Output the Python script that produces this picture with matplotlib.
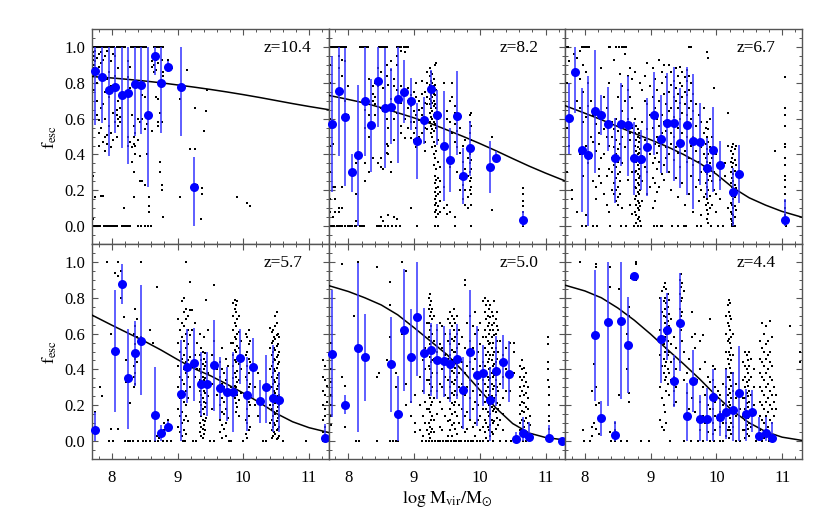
import numpy as np
import matplotlib
matplotlib.use('Agg')
import matplotlib.pyplot as plt
from matplotlib.ticker import MultipleLocator

plt.rcParams['font.family'] = ['Liberation Serif', 'DejaVu Serif']
plt.rcParams['mathtext.fontset'] = 'stix'
plt.rcParams['font.size'] = 12

REDSHIFTS = ['z=10.4', 'z=8.2', 'z=6.7', 'z=5.7', 'z=5.0', 'z=4.4']

# ---- fitted curves ----
CURVE_X = [7.7, 8.0, 8.25, 8.5, 8.75, 9.0, 9.25, 9.5, 9.75, 10.0, 10.25, 10.5, 10.75, 11.0, 11.3]
curve_p1 = [0.835, 0.827, 0.819, 0.810, 0.800, 0.788, 0.776, 0.763, 0.749, 0.734, 0.718, 0.701, 0.684, 0.668, 0.650]
curve_p2 = [0.730, 0.707, 0.687, 0.661, 0.633, 0.604, 0.573, 0.537, 0.500, 0.461, 0.420, 0.377, 0.335, 0.296, 0.252]
curve_p3 = [0.672, 0.630, 0.594, 0.556, 0.518, 0.482, 0.444, 0.400, 0.350, 0.290, 0.215, 0.158, 0.117, 0.082, 0.050]
curve_p4 = [0.703, 0.647, 0.602, 0.557, 0.508, 0.455, 0.405, 0.365, 0.318, 0.268, 0.215, 0.155, 0.108, 0.075, 0.048]
curve_p5 = [0.868, 0.835, 0.800, 0.760, 0.705, 0.633, 0.558, 0.483, 0.388, 0.285, 0.183, 0.098, 0.045, 0.020, 0.006]
curve_p6 = [0.870, 0.838, 0.800, 0.743, 0.675, 0.597, 0.513, 0.431, 0.345, 0.252, 0.168, 0.102, 0.053, 0.022, 0.004]

# ---- binned medians with error bars (lo / hi = bar ends) ----
mass_p1 = [7.75, 7.85, 7.95, 8.05, 8.15, 8.25, 8.35, 8.45, 8.55, 8.65, 8.75, 8.85, 9.05, 9.25]
fesc_p1 = [0.864, 0.835, 0.762, 0.775, 0.734, 0.742, 0.796, 0.786, 0.623, 0.950, 0.797, 0.890, 0.779, 0.216]
lo_p1 = [0.565, 0.575, 0.389, 0.519, 0.435, 0.346, 0.501, 0.513, 0.216, 0.844, 0.519, 0.863, 0.501, 0.0]
hi_p1 = [1.0, 1.0, 1.0, 1.0, 1.0, 1.0, 1.0, 1.0, 1.0, 1.0, 1.0, 0.922, 1.0, 0.385]

mass_p2 = [7.75, 7.85, 7.95, 8.05, 8.15, 8.25, 8.35, 8.45, 8.55, 8.65, 8.75, 8.85, 8.95, 9.05, 9.15,
           9.25, 9.35, 9.45, 9.55, 9.65, 9.75, 9.85, 10.15, 10.25, 10.65]
fesc_p2 = [0.571, 0.755, 0.610, 0.300, 0.395, 0.696, 0.564, 0.812, 0.662, 0.666, 0.708, 0.749, 0.697, 0.476, 0.593,
           0.764, 0.621, 0.445, 0.367, 0.614, 0.278, 0.437, 0.330, 0.383, 0.036]
lo_p2 = [0.190, 0.389, 0.222, 0.190, 0.0, 0.389, 0.302, 0.556, 0.326, 0.460, 0.355, 0.575, 0.538, 0.263, 0.460,
         0.658, 0.454, 0.138, 0.189, 0.398, 0.125, 0.281, 0.185, 0.361, 0.0]
hi_p2 = [0.952, 1.0, 0.993, 0.404, 0.788, 1.0, 0.820, 1.0, 0.993, 0.881, 1.0, 0.928, 0.826, 0.686, 0.723,
         0.872, 0.760, 0.752, 0.547, 0.866, 0.436, 0.585, 0.473, 0.417, 0.083]

mass_p3 = [7.75, 7.85, 7.95, 8.05, 8.15, 8.25, 8.35, 8.45, 8.55, 8.65, 8.75, 8.85, 8.95, 9.05, 9.15,
           9.25, 9.35, 9.45, 9.55, 9.65, 9.75, 9.85, 9.95, 10.05, 10.25, 10.35, 11.05]
fesc_p3 = [0.603, 0.863, 0.423, 0.398, 0.643, 0.621, 0.569, 0.380, 0.569, 0.562, 0.382, 0.376, 0.443, 0.619, 0.487,
           0.575, 0.573, 0.465, 0.567, 0.474, 0.469, 0.326, 0.426, 0.343, 0.190, 0.292, 0.036]
lo_p3 = [0.404, 0.634, 0.077, 0.0, 0.296, 0.510, 0.417, 0.129, 0.333, 0.281, 0.175, 0.199, 0.170, 0.398, 0.296,
         0.296, 0.250, 0.213, 0.175, 0.096, 0.231, 0.157, 0.189, 0.203, 0.0, 0.129, 0.0]
hi_p3 = [0.801, 1.0, 0.770, 0.838, 0.983, 0.731, 0.775, 0.603, 0.798, 0.838, 0.584, 0.538, 0.714, 0.863, 0.733,
         0.853, 0.890, 0.770, 0.887, 0.850, 0.690, 0.491, 0.667, 0.473, 0.324, 0.454, 0.151]

mass_p4 = [7.75, 8.05, 8.15, 8.25, 8.35, 8.45, 8.65, 8.75, 8.85, 9.05, 9.15, 9.25, 9.35, 9.45, 9.55,
           9.65, 9.75, 9.85, 9.95, 10.05, 10.15, 10.25, 10.35, 10.45, 10.55, 11.25]
fesc_p4 = [0.060, 0.504, 0.877, 0.350, 0.489, 0.561, 0.147, 0.043, 0.078, 0.264, 0.416, 0.435, 0.318, 0.318, 0.424,
           0.294, 0.275, 0.275, 0.465, 0.258, 0.411, 0.221, 0.301, 0.238, 0.232, 0.017]
lo_p4 = [0.0, 0.164, 0.768, 0.067, 0.309, 0.257, 0.0, 0.0, 0.048, 0.0, 0.212, 0.225, 0.141, 0.138, 0.169,
         0.123, 0.113, 0.048, 0.318, 0.058, 0.238, 0.100, 0.100, 0.048, 0.048, 0.0]
hi_p4 = [0.164, 0.844, 0.991, 0.628, 0.671, 0.870, 0.416, 0.089, 0.113, 0.563, 0.628, 0.632, 0.495, 0.498, 0.677,
         0.467, 0.411, 0.498, 0.625, 0.467, 0.578, 0.342, 0.480, 0.535, 0.383, 0.095]

mass_p5 = [7.75, 7.95, 8.15, 8.25, 8.65, 8.75, 8.85, 8.95, 9.05, 9.15, 9.25, 9.35, 9.45, 9.55, 9.65,
           9.75, 9.85, 9.95, 10.05, 10.15, 10.25, 10.35, 10.45, 10.55, 10.65, 10.75, 11.05, 11.25]
fesc_p5 = [0.485, 0.203, 0.517, 0.468, 0.428, 0.154, 0.619, 0.472, 0.690, 0.489, 0.509, 0.454, 0.448, 0.433, 0.457,
           0.286, 0.495, 0.368, 0.379, 0.229, 0.390, 0.444, 0.374, 0.011, 0.045, 0.024, 0.015, 0.002]
lo_p5 = [0.132, 0.151, 0.048, 0.225, 0.160, 0.0, 0.281, 0.212, 0.361, 0.262, 0.253, 0.234, 0.244, 0.216, 0.234,
         0.067, 0.123, 0.086, 0.197, 0.0, 0.197, 0.290, 0.216, 0.0, 0.0, 0.0, 0.0, 0.0]
hi_p5 = [0.842, 0.258, 0.996, 0.708, 0.690, 0.361, 0.959, 0.740, 1.0, 0.745, 0.658, 0.652, 0.643, 0.625, 0.656,
         0.467, 0.844, 0.643, 0.535, 0.416, 0.584, 0.591, 0.560, 0.048, 0.132, 0.104, 0.091, 0.002]

mass_p6 = [8.15, 8.25, 8.35, 8.45, 8.55, 8.65, 8.75, 9.15, 9.25, 9.35, 9.45, 9.55, 9.65, 9.75, 9.85,
           9.95, 10.05, 10.15, 10.25, 10.35, 10.45, 10.55, 10.65, 10.75, 10.85]
fesc_p6 = [0.591, 0.130, 0.664, 0.035, 0.671, 0.537, 0.920, 0.569, 0.621, 0.336, 0.660, 0.138, 0.333, 0.123, 0.123,
           0.244, 0.132, 0.160, 0.173, 0.271, 0.154, 0.164, 0.030, 0.043, 0.017]
lo_p6 = [0.225, 0.030, 0.197, 0.0, 0.234, 0.266, 0.903, 0.323, 0.454, 0.188, 0.392, 0.0, 0.160, 0.0, 0.0,
         0.0, 0.030, 0.011, 0.0, 0.0, 0.0, 0.048, 0.0, 0.0, 0.0]
hi_p6 = [0.956, 0.225, 1.0, 0.113, 1.0, 0.805, 0.941, 0.805, 0.829, 0.480, 0.941, 0.327, 0.509, 0.257, 0.299,
         0.402, 0.234, 0.402, 0.383, 0.532, 0.290, 0.284, 0.132, 0.132, 0.104]

# ---- individual haloes (black dots) ----
# top_*: masses of haloes sitting at f_esc = 1, zero_*: at f_esc = 0,
# cols_*: (mass, [f_esc values]) for the remaining dots
top_p1 = [7.71, 7.72, 7.73, 7.74, 7.76, 7.78, 7.80, 7.82, 7.84, 7.86, 7.88, 7.90, 7.93, 7.96, 7.99, 8.01, 8.03,
          8.08, 8.10, 8.12, 8.15, 8.18, 8.20, 8.29, 8.31, 8.34, 8.37, 8.40, 8.43, 8.46, 8.49, 8.52,
          8.64, 8.66, 8.68, 8.70, 8.73, 8.76, 8.78]
zero_p1 = [7.71, 7.73, 7.75, 7.78, 7.80, 7.82, 7.88, 7.90, 7.92, 7.95, 7.97, 8.00, 8.03, 8.06, 8.08,
           8.15, 8.17, 8.20, 8.22, 8.25, 8.27, 8.40, 8.45, 8.50, 8.55, 8.60]
cols_p1 = [(7.71, [0.97, 0.93, 0.88, 0.28, 0.04]), (7.73, [0.95, 0.90, 0.84, 0.76]), (7.75, [0.98, 0.92, 0.16]),
           (7.78, [0.94, 0.87, 0.80, 0.70, 0.62]), (7.81, [0.96, 0.89, 0.59, 0.45, 0.52]),
           (7.84, [0.97, 0.91, 0.66, 0.55, 0.17]), (7.86, [0.93, 0.68, 0.47, 0.17]),
           (7.89, [0.95, 0.75, 0.60, 0.50, 0.42]), (7.92, [0.98, 0.82, 0.51, 0.46]), (7.95, [0.86, 0.72, 0.56]),
           (7.99, [0.92, 0.78, 0.44, 0.52]), (8.02, [0.96, 0.48, 0.63]), (8.05, [0.95, 0.84, 0.58]),
           (8.08, [0.78, 0.65, 0.50, 0.62]), (8.10, [0.88, 0.70, 0.60, 0.56]), (8.12, [0.66, 0.61, 0.58]),
           (8.18, [0.10]), (8.25, [0.92, 0.83, 0.50, 0.45]), (8.27, [0.89, 0.77, 0.47]), (8.30, [0.62, 0.44, 0.36]),
           (8.33, [0.56, 0.50, 0.30, 0.16, 0.46]), (8.36, [0.45, 0.40, 0.52]), (8.40, [0.60, 0.48]),
           (8.43, [0.58, 0.25, 0.39]), (8.46, [0.73, 0.60, 0.25]), (8.50, [0.72, 0.54, 0.23]), (8.53, [0.57, 0.40]),
           (8.56, [0.16, 0.11, 0.08]), (8.61, [0.92, 0.89, 0.53]), (8.64, [0.94, 0.90, 0.86]),
           (8.67, [0.93, 0.87, 0.72]), (8.70, [0.91, 0.71, 0.58, 0.56]), (8.73, [0.63, 0.36, 0.30]),
           (8.76, [0.93, 0.58, 0.23, 0.20]), (8.78, [0.86, 0.84, 0.05]), (8.86, [0.93, 0.88]), (8.91, [0.88]),
           (9.04, [0.71, 0.16]), (9.14, [0.87]), (9.19, [0.43]), (9.26, [0.66, 0.43]), (9.29, [0.23]),
           (9.35, [0.04]), (9.37, [0.21, 0.18]), (9.40, [0.53]), (9.43, [0.64]), (9.45, [0.76]),
           (9.90, [0.16]), (10.05, [0.13]), (10.10, [0.11])]

top_p2 = [7.72, 7.74, 7.76, 7.78, 7.80, 7.83, 7.86, 7.89, 7.92, 7.95, 7.97, 8.18, 8.21, 8.24, 8.27, 8.30,
          8.46, 8.49, 8.52, 8.55, 8.58, 8.74, 8.77, 8.80, 8.84, 8.88, 8.91]
zero_p2 = [7.72, 7.75, 7.78, 7.82, 7.85, 7.88, 7.91, 7.95, 8.00, 8.03, 8.06, 8.10, 8.12, 8.18, 8.21, 8.23,
           8.43, 8.46, 8.50, 8.55, 8.60, 8.66, 8.72, 8.78, 9.05, 9.32, 9.36, 9.62, 9.87, 10.66]
cols_p2 = [(7.72, [0.90, 0.80, 0.60, 0.45, 0.30, 0.15, 0.08]), (7.76, [0.46, 0.22, 0.05]),
           (7.80, [0.22, 0.15, 0.08]), (7.85, [0.95, 0.88, 0.10, 0.08]), (7.90, [0.93, 0.84, 0.22, 0.10]),
           (7.95, [0.92, 0.70]), (8.00, [0.78, 0.62]), (8.12, [0.35, 0.18, 0.03]),
           (8.26, [0.65, 0.55, 0.35, 0.25]), (8.32, [0.82, 0.62, 0.50, 0.30]), (8.37, [0.78, 0.74, 0.70, 0.38]),
           (8.41, [0.80, 0.72, 0.68, 0.62]), (8.45, [0.88, 0.78, 0.35]), (8.50, [0.86, 0.66, 0.38, 0.33, 0.05]),
           (8.53, [0.77, 0.64, 0.32, 0.03]), (8.58, [0.90, 0.84, 0.60, 0.46, 0.41]),
           (8.61, [0.79, 0.55, 0.45, 0.40, 0.06]), (8.65, [0.92, 0.87, 0.71, 0.36, 0.30]),
           (8.70, [0.82, 0.78, 0.60, 0.48, 0.05]), (8.74, [0.95, 0.90, 0.76, 0.63, 0.04]),
           (8.80, [0.98, 0.78, 0.69, 0.56, 0.52]), (8.86, [0.97, 0.75, 0.60, 0.49]),
           (8.90, [0.77, 0.70, 0.66, 0.55]), (8.95, [0.73, 0.67, 0.58, 0.49, 0.10]),
           (9.00, [0.75, 0.70, 0.64, 0.58, 0.52, 0.48]), (9.03, [0.80, 0.72, 0.62, 0.55, 0.44]),
           (9.07, [0.70, 0.65, 0.59, 0.50, 0.47]), (9.12, [0.81, 0.74, 0.66, 0.62, 0.52]),
           (9.16, [0.75, 0.69, 0.60, 0.55, 0.47, 0.42]), (9.20, [0.86, 0.80, 0.72, 0.68, 0.54]),
           (9.24, [0.88, 0.84, 0.79, 0.75, 0.71, 0.68, 0.63, 0.58]),
           (9.26, [0.86, 0.81, 0.77, 0.73, 0.70, 0.66, 0.61, 0.56, 0.52]),
           (9.28, [0.85, 0.80, 0.76, 0.72, 0.69, 0.64, 0.60, 0.54, 0.50, 0.44]),
           (9.30, [0.82, 0.78, 0.74, 0.70, 0.67, 0.62, 0.58, 0.53, 0.47, 0.40, 0.34]),
           (9.32, [0.90, 0.79, 0.73, 0.68, 0.63, 0.57, 0.45, 0.38, 0.28, 0.24, 0.19, 0.15, 0.12, 0.08]),
           (9.34, [0.91, 0.76, 0.66, 0.55, 0.42, 0.32, 0.26, 0.21, 0.17, 0.13, 0.09, 0.05]),
           (9.36, [0.60, 0.48, 0.36, 0.27, 0.22, 0.18, 0.11, 0.07]), (9.39, [0.33, 0.25, 0.19, 0.14, 0.08]),
           (9.45, [0.80, 0.22, 0.10]), (9.50, [0.64, 0.60, 0.12, 0.07]), (9.55, [0.70, 0.58, 0.33, 0.08]),
           (9.58, [0.80, 0.72, 0.52]), (9.62, [0.67, 0.63, 0.57, 0.47, 0.05]), (9.66, [0.62, 0.53, 0.44, 0.30]),
           (9.70, [0.55, 0.41, 0.27, 0.20]), (9.74, [0.45, 0.36, 0.23, 0.15]), (9.78, [0.48, 0.32, 0.20, 0.12]),
           (9.82, [0.44, 0.38, 0.28, 0.16, 0.10]), (9.85, [0.62, 0.58, 0.52, 0.45, 0.40, 0.35, 0.30, 0.25, 0.20]),
           (9.87, [0.63, 0.56, 0.48, 0.42, 0.37, 0.32, 0.27, 0.22, 0.18, 0.12]), (10.19, [0.50, 0.09]),
           (10.66, [0.21, 0.18, 0.14, 0.11, 0.08, 0.05, 0.03])]

top_p3 = [7.72, 7.74, 7.96, 7.99, 8.01, 8.04, 8.06, 8.36, 8.38, 8.48, 8.52, 8.56, 8.60, 8.63, 9.58, 9.60, 9.62]
zero_p3 = [7.95, 8.02, 8.12, 8.18, 8.38, 8.55, 8.62, 8.75, 8.80, 8.86, 9.05, 9.10, 9.15, 9.18, 9.32, 9.42,
           9.50, 9.54, 9.70, 9.76, 9.92, 10.02, 10.10, 10.24, 10.26, 10.28, 11.06]
cols_p3 = [(7.72, [0.80, 0.55, 0.30]), (7.76, [0.92, 0.45]), (7.80, [0.20, 0.15]), (7.84, [0.96, 0.85]),
           (7.88, [0.94, 0.70, 0.08]), (7.92, [0.98, 0.82, 0.66, 0.40]), (7.97, [0.90, 0.75, 0.58, 0.28]),
           (8.01, [0.86, 0.61, 0.45, 0.06]), (8.05, [0.80, 0.67, 0.35]), (8.09, [0.70, 0.50, 0.38]),
           (8.13, [0.62, 0.47, 0.25]), (8.17, [0.57, 0.42, 0.22, 0.15]), (8.21, [0.52, 0.46, 0.32, 0.28]),
           (8.25, [0.88, 0.60, 0.38, 0.24]), (8.29, [0.72, 0.54, 0.40, 0.18]), (8.33, [0.66, 0.50, 0.28, 0.12]),
           (8.37, [0.80, 0.57, 0.45, 0.32, 0.08]), (8.41, [0.58, 0.50, 0.38, 0.30, 0.20]),
           (8.44, [0.93, 0.54, 0.44, 0.34, 0.24, 0.18]), (8.47, [0.60, 0.48, 0.40, 0.33, 0.27, 0.20, 0.14]),
           (8.50, [0.72, 0.53, 0.43, 0.36, 0.29, 0.22, 0.16, 0.12]), (8.53, [0.85, 0.46, 0.38, 0.30, 0.25, 0.18]),
           (8.57, [0.78, 0.64, 0.50, 0.35, 0.10]), (8.61, [0.96, 0.70, 0.56, 0.44]),
           (8.65, [0.84, 0.76, 0.60, 0.26]), (8.69, [0.88, 0.72, 0.52, 0.48, 0.12]),
           (8.72, [0.82, 0.66, 0.55, 0.30, 0.07]), (8.76, [0.86, 0.60, 0.52, 0.45, 0.38, 0.30, 0.22, 0.15, 0.08]),
           (8.78, [0.56, 0.48, 0.42, 0.36, 0.31, 0.26, 0.21, 0.17, 0.12, 0.06, 0.02]),
           (8.80, [0.54, 0.50, 0.44, 0.40, 0.34, 0.29, 0.24, 0.19, 0.14, 0.10, 0.04]),
           (8.82, [0.52, 0.47, 0.41, 0.37, 0.32, 0.27, 0.23, 0.18, 0.13, 0.09, 0.05]),
           (8.84, [0.80, 0.49, 0.43, 0.35, 0.28, 0.20, 0.11, 0.03]), (8.87, [0.76, 0.58, 0.39, 0.25, 0.14]),
           (8.91, [0.84, 0.70, 0.48, 0.33]), (8.95, [0.91, 0.68, 0.54, 0.30, 0.18]),
           (8.99, [0.78, 0.62, 0.44, 0.40, 0.22]), (9.03, [0.88, 0.72, 0.55, 0.35, 0.27, 0.10]),
           (9.06, [0.82, 0.66, 0.46, 0.38, 0.24, 0.14]), (9.10, [0.76, 0.60, 0.50, 0.41, 0.32, 0.19]),
           (9.13, [0.93, 0.70, 0.56, 0.45, 0.36, 0.22]), (9.17, [0.86, 0.80, 0.62, 0.52, 0.29]),
           (9.20, [0.90, 0.74, 0.58, 0.48, 0.34, 0.26]), (9.24, [0.83, 0.68, 0.53, 0.44, 0.38]),
           (9.28, [0.90, 0.75, 0.64, 0.57, 0.40, 0.30]), (9.31, [0.86, 0.79, 0.66, 0.52, 0.46, 0.20]),
           (9.35, [0.81, 0.72, 0.61, 0.50, 0.37]), (9.38, [0.88, 0.77, 0.70, 0.58, 0.44, 0.27]),
           (9.42, [0.84, 0.74, 0.66, 0.55, 0.41, 0.16]), (9.45, [0.89, 0.80, 0.69, 0.60, 0.47, 0.33]),
           (9.48, [0.86, 0.78, 0.72, 0.63, 0.52, 0.24]), (9.52, [0.83, 0.75, 0.68, 0.56, 0.42, 0.12]),
           (9.55, [0.87, 0.81, 0.73, 0.62, 0.50, 0.36]), (9.58, [0.84, 0.76, 0.66, 0.55, 0.38, 0.18]),
           (9.61, [0.80, 0.70, 0.60, 0.45, 0.28]), (9.65, [0.74, 0.64, 0.50, 0.34, 0.08]),
           (9.69, [0.68, 0.56, 0.42, 0.22]), (9.73, [0.62, 0.48, 0.36, 0.26, 0.14]),
           (9.77, [0.58, 0.44, 0.30, 0.20, 0.06]), (9.81, [0.66, 0.52, 0.40, 0.32, 0.16]),
           (9.84, [0.55, 0.46, 0.38, 0.30, 0.24, 0.18, 0.12]),
           (9.86, [0.97, 0.58, 0.50, 0.43, 0.36, 0.29, 0.22, 0.15, 0.09, 0.04]),
           (9.88, [0.94, 0.54, 0.47, 0.40, 0.33, 0.26, 0.20, 0.13, 0.07, 0.02]),
           (9.90, [0.60, 0.44, 0.35, 0.28, 0.17, 0.10]), (9.93, [0.50, 0.38, 0.25, 0.12]),
           (9.96, [0.77, 0.30, 0.20]), (10.00, [0.40, 0.18, 0.08]), (10.05, [0.26, 0.15]), (10.13, [0.35, 0.28]),
           (10.18, [0.63, 0.45, 0.10]), (10.22, [0.42, 0.36, 0.30, 0.24, 0.18, 0.13, 0.08, 0.04]),
           (10.24, [0.44, 0.38, 0.33, 0.27, 0.22, 0.17, 0.12, 0.07, 0.03, 0.01]),
           (10.26, [0.46, 0.40, 0.35, 0.29, 0.25, 0.20, 0.15, 0.10, 0.06, 0.02]),
           (10.28, [0.43, 0.37, 0.31, 0.23, 0.16, 0.11, 0.05]), (10.30, [0.45, 0.34, 0.21, 0.09]),
           (10.90, [0.42]),
           (11.04, [0.83, 0.66, 0.62, 0.56, 0.46, 0.44, 0.38, 0.34, 0.28, 0.26, 0.22, 0.18, 0.14, 0.10, 0.06, 0.03])]

top_p4 = [7.92, 8.09, 8.45, 9.13]
zero_p4 = [7.96, 8.02, 8.20, 8.24, 8.28, 8.32, 8.40, 8.48, 8.52, 8.58, 8.66, 8.70, 8.78, 8.84, 8.90, 9.08, 9.12,
           9.24, 9.28, 9.50, 9.56, 9.78, 9.82, 10.00, 10.30, 10.34, 10.60, 10.96, 11.22]
cols_p4 = [(7.75, [0.16]), (7.82, [0.30]), (7.85, [0.25]), (7.98, [0.60, 0.07]), (8.05, [0.94]),
           (8.10, [0.92, 0.07]), (8.14, [0.95, 0.80]), (8.18, [0.69]), (8.22, [0.45, 0.33]), (8.28, [0.21]),
           (8.33, [0.60, 0.50, 0.42, 0.36, 0.30]), (8.35, [0.74, 0.64, 0.54, 0.46, 0.38, 0.32]),
           (8.38, [0.68, 0.58, 0.44]), (8.45, [0.58]), (8.58, [0.62]), (8.63, [0.55]), (8.68, [0.86, 0.03]),
           (8.72, [0.05, 0.02]), (8.80, [0.10, 0.06]), (8.86, [0.12, 0.09]),
           (9.01, [0.68, 0.55, 0.42, 0.30, 0.18, 0.08]), (9.04, [0.62, 0.50, 0.36, 0.24, 0.14, 0.05]),
           (9.07, [0.78, 0.66, 0.58, 0.46, 0.34, 0.26, 0.16, 0.10, 0.03]),
           (9.10, [0.80, 0.72, 0.64, 0.56, 0.48, 0.40, 0.32, 0.22, 0.12, 0.06]),
           (9.13, [0.74, 0.68, 0.60, 0.52, 0.44, 0.38, 0.28, 0.20, 0.14, 0.04]),
           (9.16, [0.70, 0.62, 0.54, 0.45, 0.36, 0.24, 0.11]), (9.19, [0.89, 0.73, 0.59, 0.47, 0.30]),
           (9.22, [0.73, 0.62, 0.43]), (9.26, [0.66, 0.48, 0.36]), (9.30, [0.55, 0.40]),
           (9.34, [0.60, 0.48, 0.40, 0.34, 0.28, 0.22, 0.16, 0.10, 0.05]),
           (9.36, [0.52, 0.45, 0.38, 0.32, 0.26, 0.20, 0.14, 0.08, 0.03]),
           (9.38, [0.50, 0.43, 0.36, 0.30, 0.24, 0.18, 0.12, 0.07, 0.02]),
           (9.40, [0.58, 0.46, 0.40, 0.34, 0.28, 0.22, 0.15, 0.09, 0.04]),
           (9.42, [0.49, 0.42, 0.35, 0.27, 0.19, 0.11, 0.06]), (9.44, [0.79, 0.44, 0.30, 0.21, 0.13]),
           (9.47, [0.62, 0.38, 0.25]), (9.52, [0.48, 0.32, 0.18]), (9.55, [0.87, 0.56, 0.44]), (9.60, [0.40, 0.26]),
           (9.65, [0.44, 0.36, 0.28, 0.20, 0.12, 0.05]), (9.68, [0.52, 0.40, 0.32, 0.24, 0.16, 0.09, 0.02]),
           (9.71, [0.38, 0.30, 0.22, 0.15, 0.07]), (9.74, [0.46, 0.34, 0.26, 0.18, 0.10, 0.03]),
           (9.77, [0.42, 0.28, 0.13]), (9.81, [0.55, 0.30]),
           (9.85, [0.77, 0.70, 0.62, 0.55, 0.48, 0.42, 0.35, 0.28]),
           (9.87, [0.79, 0.74, 0.66, 0.58, 0.51, 0.45, 0.38, 0.31, 0.24]),
           (9.89, [0.76, 0.72, 0.64, 0.57, 0.50, 0.44, 0.36, 0.30, 0.21, 0.16]),
           (9.91, [0.78, 0.68, 0.60, 0.53, 0.46, 0.39, 0.33, 0.26, 0.19]),
           (9.93, [0.70, 0.61, 0.52, 0.43, 0.34, 0.23, 0.14]), (9.96, [0.56, 0.40, 0.27]),
           (10.04, [0.60, 0.48, 0.36, 0.24, 0.12, 0.04]), (10.06, [0.58, 0.50, 0.42, 0.34, 0.26, 0.18, 0.10, 0.02]),
           (10.08, [0.62, 0.54, 0.46, 0.38, 0.30, 0.22, 0.14, 0.06]), (10.10, [0.56, 0.44, 0.32, 0.20, 0.08]),
           (10.18, [0.30, 0.20]), (10.23, [0.38, 0.14]), (10.40, [0.63, 0.52, 0.40, 0.30, 0.20, 0.10]),
           (10.43, [0.61, 0.55, 0.48, 0.42, 0.36, 0.30, 0.24, 0.18, 0.12, 0.06, 0.02]),
           (10.45, [0.62, 0.56, 0.50, 0.44, 0.38, 0.32, 0.26, 0.20, 0.14, 0.08, 0.03]),
           (10.47, [0.58, 0.52, 0.46, 0.40, 0.34, 0.28, 0.22, 0.16, 0.10, 0.05]),
           (10.49, [0.70, 0.64, 0.57, 0.51, 0.45, 0.39, 0.33, 0.27, 0.21, 0.15, 0.09, 0.04]),
           (10.51, [0.72, 0.66, 0.59, 0.53, 0.47, 0.41, 0.35, 0.29, 0.23, 0.17, 0.11, 0.06, 0.01]),
           (10.53, [0.60, 0.54, 0.48, 0.43, 0.37, 0.31, 0.25, 0.19, 0.13, 0.07, 0.02]),
           (10.55, [0.58, 0.50, 0.44, 0.38, 0.32, 0.26, 0.20, 0.14, 0.08, 0.03]),
           (11.22, [0.45, 0.36, 0.28, 0.20, 0.12, 0.05]), (11.25, [0.42, 0.34, 0.26, 0.18, 0.14, 0.08, 0.03]),
           (11.28, [0.31, 0.22])]

top_p5 = [8.15, 8.81]
zero_p5 = [8.12, 8.16, 8.43, 8.63, 8.68, 8.72, 8.76, 9.12, 9.18, 9.22, 9.28, 9.32, 9.36, 9.40, 9.44, 9.48, 9.52,
           9.56, 9.60, 9.64, 9.68, 9.72, 9.78, 9.82, 9.86, 9.90, 9.95, 10.00, 10.05, 10.12, 10.20, 10.30, 10.40,
           10.48, 10.54, 10.60, 10.65, 10.70]
cols_p5 = [(7.71, [0.60, 0.52, 0.44, 0.37, 0.30, 0.24, 0.18, 0.12, 0.07, 0.03]),
           (7.73, [0.55, 0.47, 0.40, 0.33, 0.26, 0.20, 0.14, 0.09]), (7.90, [0.99, 0.36]), (7.95, [0.31, 0.08]),
           (8.08, [0.70]), (8.43, [0.97, 0.36]), (8.47, [0.38]), (8.58, [0.45]), (8.63, [0.89, 0.76, 0.58]),
           (8.72, [0.38, 0.30]), (8.81, [0.60]), (8.88, [0.95, 0.32, 0.20]), (8.96, [0.22, 0.14]),
           (9.02, [0.26, 0.10, 0.05]), (9.09, [0.36, 0.20, 0.06]), (9.13, [0.45, 0.28, 0.14, 0.03]),
           (9.17, [0.52, 0.40, 0.22, 0.10]), (9.20, [0.66, 0.34, 0.18, 0.06]),
           (9.22, [0.80, 0.74, 0.66, 0.58, 0.50, 0.42, 0.34, 0.26, 0.18, 0.10, 0.04]),
           (9.24, [0.82, 0.76, 0.70, 0.62, 0.54, 0.47, 0.40, 0.32, 0.24, 0.16, 0.08, 0.02]),
           (9.26, [0.78, 0.72, 0.64, 0.56, 0.49, 0.44, 0.36, 0.28, 0.20, 0.12, 0.05]),
           (9.28, [0.74, 0.68, 0.60, 0.52, 0.45, 0.38, 0.30, 0.22, 0.14, 0.07]),
           (9.31, [0.70, 0.56, 0.46, 0.24, 0.12, 0.05]), (9.35, [0.62, 0.50, 0.38, 0.28, 0.15]),
           (9.39, [0.66, 0.54, 0.44, 0.32, 0.22, 0.08]), (9.43, [0.64, 0.52, 0.40, 0.30, 0.18, 0.06]),
           (9.47, [0.60, 0.48, 0.36, 0.26, 0.14]), (9.51, [0.68, 0.56, 0.46, 0.34, 0.24, 0.11, 0.03]),
           (9.55, [0.72, 0.66, 0.60, 0.54, 0.48, 0.42, 0.36, 0.30, 0.24, 0.18, 0.12, 0.06]),
           (9.57, [0.70, 0.64, 0.57, 0.51, 0.45, 0.39, 0.33, 0.27, 0.21, 0.15, 0.09, 0.03]),
           (9.60, [0.74, 0.68, 0.62, 0.56, 0.50, 0.44, 0.38, 0.32, 0.26, 0.20, 0.10]),
           (9.63, [0.66, 0.58, 0.50, 0.41, 0.34, 0.28, 0.22, 0.16, 0.07]),
           (9.66, [0.70, 0.60, 0.52, 0.44, 0.36, 0.26, 0.14, 0.04]),
           (9.69, [0.62, 0.54, 0.46, 0.38, 0.30, 0.20, 0.10]), (9.73, [0.58, 0.44, 0.32, 0.18, 0.08]),
           (9.77, [0.90, 0.87, 0.52, 0.38, 0.26, 0.14, 0.05]), (9.81, [0.66, 0.42, 0.30, 0.16, 0.07]),
           (9.85, [0.70, 0.56, 0.44, 0.34, 0.24, 0.12]), (9.89, [0.64, 0.52, 0.40, 0.28, 0.18, 0.08]),
           (9.93, [0.72, 0.60, 0.46, 0.36, 0.22, 0.10, 0.03]), (9.97, [0.62, 0.50, 0.32, 0.20, 0.12]),
           (10.01, [0.66, 0.54, 0.42, 0.26, 0.14, 0.06]), (10.05, [0.78, 0.58, 0.44, 0.34, 0.18, 0.08]),
           (10.08, [0.80, 0.72, 0.62, 0.52, 0.42, 0.32, 0.22, 0.12, 0.05]),
           (10.10, [0.76, 0.68, 0.58, 0.48, 0.38, 0.28, 0.18, 0.10, 0.02]),
           (10.12, [0.78, 0.70, 0.64, 0.56, 0.50, 0.44, 0.36, 0.30, 0.24, 0.16, 0.08]),
           (10.14, [0.74, 0.66, 0.60, 0.54, 0.46, 0.40, 0.34, 0.26, 0.20, 0.14, 0.06]),
           (10.16, [0.76, 0.69, 0.62, 0.55, 0.48, 0.41, 0.35, 0.28, 0.22, 0.15, 0.09, 0.03]),
           (10.18, [0.72, 0.65, 0.58, 0.52, 0.45, 0.38, 0.32, 0.25, 0.19, 0.12, 0.05]),
           (10.20, [0.70, 0.62, 0.55, 0.48, 0.42, 0.36, 0.29, 0.23, 0.17, 0.10, 0.04]),
           (10.22, [0.78, 0.66, 0.59, 0.50, 0.43, 0.37, 0.31, 0.24, 0.18, 0.11]),
           (10.24, [0.68, 0.60, 0.52, 0.44, 0.34, 0.26, 0.16, 0.07]),
           (10.26, [0.72, 0.64, 0.56, 0.46, 0.39, 0.30, 0.21, 0.13]),
           (10.28, [0.62, 0.50, 0.40, 0.28, 0.18, 0.09]), (10.31, [0.56, 0.44, 0.32, 0.20, 0.12]),
           (10.35, [0.48, 0.36, 0.24, 0.15, 0.06]), (10.40, [0.52, 0.40, 0.28]), (10.46, [0.55, 0.28]),
           (10.52, [0.55, 0.50, 0.38]), (10.61, [0.42, 0.36, 0.30, 0.25, 0.20, 0.15, 0.10, 0.06]),
           (10.64, [0.45, 0.40, 0.34, 0.28, 0.22, 0.17, 0.12, 0.07, 0.03]),
           (10.67, [0.41, 0.36, 0.31, 0.26, 0.21, 0.16, 0.11, 0.08, 0.04]),
           (10.70, [0.38, 0.33, 0.27, 0.19, 0.13, 0.05]), (10.73, [0.30, 0.24, 0.18, 0.10]),
           (10.76, [0.14, 0.09]), (11.04, [0.58, 0.54, 0.44, 0.40, 0.34]),
           (11.06, [0.30, 0.26, 0.20, 0.14, 0.11, 0.07])]

top_p6 = [7.92, 8.77]
zero_p6 = [7.99, 8.08, 8.40, 8.46, 8.55, 8.64, 8.86, 8.98, 9.30, 9.50, 9.62, 9.72, 9.80, 9.90, 9.96, 10.05,
           10.10, 10.30, 10.36, 10.60, 10.70, 10.80]
cols_p6 = [(7.97, [0.06]), (8.10, [0.28, 0.08, 0.03]), (8.14, [0.43, 0.10]), (8.17, [0.99, 0.97, 0.30, 0.20, 0.07]),
           (8.22, [0.21, 0.04]), (8.38, [0.97, 0.86, 0.05]), (8.45, [0.10, 0.06]), (8.52, [0.85, 0.26]),
           (8.64, [0.60, 0.40]), (8.67, [0.75, 0.70, 0.27, 0.22]), (8.70, [0.91]), (8.78, [0.99, 0.90]),
           (9.14, [0.80, 0.62, 0.48, 0.30, 0.12]), (9.17, [0.84, 0.72, 0.56, 0.42, 0.24, 0.08]),
           (9.20, [0.86, 0.78, 0.70, 0.62, 0.54, 0.46, 0.38, 0.20, 0.06]),
           (9.22, [0.88, 0.80, 0.74, 0.66, 0.58, 0.50, 0.42, 0.34, 0.16]),
           (9.24, [0.85, 0.77, 0.69, 0.60, 0.52, 0.44, 0.36, 0.28, 0.10]),
           (9.26, [0.82, 0.75, 0.67, 0.56, 0.48, 0.40, 0.32]), (9.28, [0.79, 0.71, 0.64, 0.50, 0.38, 0.26]),
           (9.31, [0.68, 0.54, 0.44, 0.34]), (9.35, [0.58, 0.46, 0.36, 0.28, 0.20]),
           (9.39, [0.52, 0.40, 0.30, 0.22]), (9.44, [0.90, 0.82, 0.74, 0.66, 0.44]),
           (9.46, [0.93, 0.86, 0.78, 0.70, 0.62]), (9.48, [0.88, 0.80, 0.72, 0.56]), (9.51, [0.84, 0.50, 0.34]),
           (9.55, [0.38, 0.27]), (9.58, [0.46, 0.18]), (9.63, [0.72, 0.58, 0.24]), (9.67, [0.60, 0.52, 0.16]),
           (9.71, [0.34, 0.12]), (9.75, [0.56, 0.40, 0.22, 0.06]), (9.79, [0.59, 0.30, 0.14]),
           (9.83, [0.44, 0.26, 0.10]), (9.87, [0.36, 0.20, 0.05]), (9.91, [0.68, 0.33, 0.18]),
           (9.95, [0.42, 0.34, 0.26, 0.18, 0.10, 0.04]), (9.98, [0.40, 0.30, 0.22, 0.14, 0.06]),
           (10.02, [0.28, 0.12]), (10.06, [0.26, 0.16, 0.08]), (10.10, [0.32, 0.20, 0.10]),
           (10.15, [0.70, 0.60, 0.50, 0.40, 0.30, 0.20, 0.10, 0.03]),
           (10.17, [0.76, 0.66, 0.56, 0.46, 0.36, 0.26, 0.16, 0.06]),
           (10.19, [0.79, 0.72, 0.64, 0.57, 0.50, 0.43, 0.36, 0.29, 0.22, 0.15, 0.08, 0.02]),
           (10.21, [0.77, 0.70, 0.62, 0.55, 0.48, 0.41, 0.34, 0.27, 0.20, 0.13, 0.06]),
           (10.23, [0.68, 0.58, 0.52, 0.45, 0.38, 0.31, 0.24, 0.17, 0.10, 0.04]),
           (10.25, [0.60, 0.48, 0.38, 0.28, 0.18, 0.08]), (10.30, [0.32, 0.24, 0.14]), (10.36, [0.28, 0.18]),
           (10.41, [0.44, 0.34, 0.24, 0.14, 0.06]), (10.44, [0.50, 0.42, 0.36, 0.30, 0.24, 0.18, 0.12, 0.06, 0.02]),
           (10.46, [0.48, 0.40, 0.33, 0.27, 0.21, 0.15, 0.09, 0.04]),
           (10.48, [0.45, 0.38, 0.31, 0.25, 0.19, 0.13, 0.07]),
           (10.50, [0.50, 0.42, 0.34, 0.28, 0.22, 0.16, 0.10, 0.03]), (10.53, [0.46, 0.36, 0.26, 0.16, 0.08]),
           (10.58, [0.40, 0.30, 0.20]), (10.66, [0.56, 0.46, 0.38, 0.30, 0.22, 0.14, 0.06]),
           (10.69, [0.66, 0.52, 0.44, 0.36, 0.28, 0.20, 0.12, 0.04]),
           (10.72, [0.60, 0.50, 0.42, 0.34, 0.26, 0.18, 0.10, 0.02]),
           (10.75, [0.64, 0.54, 0.46, 0.38, 0.30, 0.22, 0.14, 0.06]),
           (10.78, [0.56, 0.48, 0.40, 0.32, 0.24, 0.16, 0.08]),
           (10.81, [0.67, 0.50, 0.44, 0.36, 0.28, 0.20, 0.12, 0.04]), (10.84, [0.58, 0.42, 0.34, 0.26, 0.18, 0.10]),
           (10.87, [0.30, 0.22, 0.14]), (10.91, [0.26, 0.18]), (11.12, [0.64]), (11.27, [0.50, 0.44])]

panels = [
    (top_p1, zero_p1, cols_p1, curve_p1, mass_p1, fesc_p1, lo_p1, hi_p1),
    (top_p2, zero_p2, cols_p2, curve_p2, mass_p2, fesc_p2, lo_p2, hi_p2),
    (top_p3, zero_p3, cols_p3, curve_p3, mass_p3, fesc_p3, lo_p3, hi_p3),
    (top_p4, zero_p4, cols_p4, curve_p4, mass_p4, fesc_p4, lo_p4, hi_p4),
    (top_p5, zero_p5, cols_p5, curve_p5, mass_p5, fesc_p5, lo_p5, hi_p5),
    (top_p6, zero_p6, cols_p6, curve_p6, mass_p6, fesc_p6, lo_p6, hi_p6),
]

frame_col = '#555555'

fig, axes = plt.subplots(2, 3, figsize=(8.3, 5.19), dpi=100, sharex=True, sharey=True)
plt.subplots_adjust(left=0.111, right=0.966, bottom=0.1156, top=0.944, wspace=0, hspace=0)

for i, ax in enumerate(axes.flat):
    top, zero, cols, curve, mass, fesc, lo, hi = panels[i]

    # individual haloes
    dx = list(top) + list(zero)
    dy = [1.0] * len(top) + [0.0] * len(zero)
    for x, ys in cols:
        dx += [x] * len(ys)
        dy += ys
    ax.plot(dx, dy, 's', color='k', ms=1.7, mew=0, zorder=2)

    # fit
    ax.plot(CURVE_X, curve, '-', color='k', lw=1.1, zorder=3)

    # binned values
    fesc = np.array(fesc)
    yerr = [fesc - np.array(lo), np.array(hi) - fesc]
    ax.errorbar(mass, fesc, yerr=yerr, fmt='o', color='blue', ecolor='#3333ff', ms=6.5, mew=0,
                elinewidth=1.1, capsize=1.5, capthick=1.0, zorder=4, clip_on=False)

    ax.text(0.723, 0.91, REDSHIFTS[i], transform=ax.transAxes, ha='left', va='center', fontsize=12.5)

    ax.set_xlim(7.7, 11.3)
    ax.set_ylim(-0.1, 1.1)
    ax.xaxis.set_major_locator(MultipleLocator(1))
    ax.xaxis.set_minor_locator(MultipleLocator(0.2))
    ax.yaxis.set_major_locator(MultipleLocator(0.2))
    ax.yaxis.set_minor_locator(MultipleLocator(0.05))
    ax.yaxis.set_major_formatter(plt.FormatStrFormatter('%.1f'))
    ax.tick_params(which='both', direction='in', top=True, right=True, color=frame_col, labelsize=12)
    ax.tick_params(which='major', length=4, width=0.8)
    ax.tick_params(which='minor', length=2, width=0.7)
    ax.tick_params(axis='y', pad=5)
    ax.tick_params(axis='x', pad=8)
    for sp in ax.spines.values():
        sp.set_color(frame_col)
        sp.set_linewidth(1.0)

axes[0, 0].set_ylabel(r'$\mathrm{f_{esc}}$', fontsize=13)
axes[1, 0].set_ylabel(r'$\mathrm{f_{esc}}$', fontsize=13)
axes[1, 1].set_xlabel(r'$\mathrm{log\ M_{vir}/M_{\odot}}$', fontsize=13, labelpad=2)

fig.savefig('out.png', dpi=100)
